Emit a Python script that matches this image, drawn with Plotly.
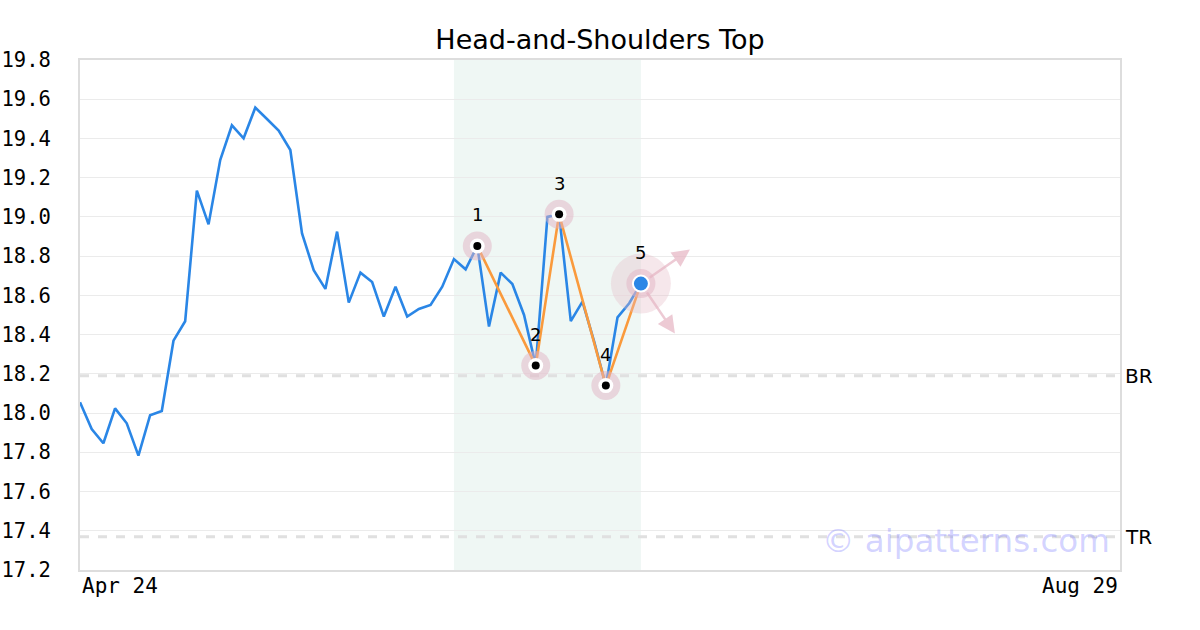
import plotly.graph_objects as go

# ---- data ----
prices = [18.055, 17.919, 17.846, 18.024, 17.948, 17.783, 17.989, 18.011, 18.369, 18.468,
          19.134, 18.962, 19.290, 19.467, 19.401, 19.557, 19.499, 19.440, 19.341, 18.916,
          18.729, 18.633, 18.925, 18.563, 18.716, 18.668, 18.492, 18.644, 18.492, 18.531,
          18.551, 18.644, 18.785, 18.733, 18.852, 18.441, 18.716, 18.658, 18.500, 18.242,
          19.000, 19.013, 18.469, 18.568, 18.364, 18.140, 18.488, 18.560, 18.660]
n_total = 90  # trading days Apr 24 .. Aug 29
tick_labels = ["Apr 24", "Aug 29"]
tick_index = [0, n_total - 1]

pattern_idx = [34, 39, 41, 45, 48]
pattern_val = [18.852, 18.242, 19.013, 18.140, 18.660]
pattern_lbl = ["1", "2", "3", "4", "5"]

zone_start, zone_end = 32, 48
levels = [18.19, 17.37]
level_names = ["BR", "TR"]

BLUE = "#2a86e6"
ORANGE = "#fa9a3c"
PINK = "rgba(225,180,195,0.5)"

fig = go.Figure()

# shaded zone
fig.add_shape(type="rect", xref="x", yref="paper", x0=zone_start, x1=zone_end, y0=0, y1=1,
              fillcolor="#eff7f4", line_width=0, layer="below")

# level lines
for lv in levels:
    fig.add_shape(type="line", xref="paper", yref="y", x0=0, x1=1, y0=lv, y1=lv,
                  line=dict(color="#e0e0e0", width=3, dash="dash"), layer="below")

# price line
fig.add_trace(go.Scatter(x=list(range(len(prices))), y=prices, mode="lines",
                         line=dict(color=BLUE, width=2.6), hoverinfo="skip"))
# pattern line
fig.add_trace(go.Scatter(x=pattern_idx, y=pattern_val, mode="lines",
                         line=dict(color=ORANGE, width=2.6), hoverinfo="skip"))

# big halo on last point
fig.add_trace(go.Scatter(x=pattern_idx[-1:], y=pattern_val[-1:], mode="markers",
                         marker=dict(size=60, color="rgba(230,185,198,0.35)", line_width=0),
                         hoverinfo="skip"))
# halos
fig.add_trace(go.Scatter(x=pattern_idx, y=pattern_val, mode="markers",
                         marker=dict(size=29, color=PINK, line_width=0), hoverinfo="skip"))
# white + black dots for first four
fig.add_trace(go.Scatter(x=pattern_idx[:-1], y=pattern_val[:-1], mode="markers",
                         marker=dict(size=15, color="white", line_width=0), hoverinfo="skip"))
fig.add_trace(go.Scatter(x=pattern_idx[:-1], y=pattern_val[:-1], mode="markers",
                         marker=dict(size=8, color="black", line_width=0), hoverinfo="skip"))
# last point blue dot
fig.add_trace(go.Scatter(x=pattern_idx[-1:], y=pattern_val[-1:], mode="markers",
                         marker=dict(size=16, color=BLUE, line=dict(color="white", width=2)),
                         hoverinfo="skip"))

annotations = []
for xi, yv, lb in zip(pattern_idx, pattern_val, pattern_lbl):
    annotations.append(dict(x=xi, y=yv, text=lb, showarrow=False, yshift=31,
                            font=dict(family="DejaVu Sans", size=18, color="black")))

# arrows from last point
for dx_, dy_ in [(49, -34), (34, 50)]:
    annotations.append(dict(x=pattern_idx[-1], y=pattern_val[-1], xref="x", yref="y",
                            text="", showarrow=True, arrowhead=2, arrowsize=1.4,
                            arrowwidth=2.5, arrowcolor="rgba(230,180,195,0.7)",
                            ax=-dx_, ay=-dy_, standoff=0, startstandoff=9,
                            xshift=dx_, yshift=-dy_))

for lv, nm in zip(levels, level_names):
    annotations.append(dict(x=1, xref="paper", y=lv, yref="y", text=nm, showarrow=False,
                            xanchor="left", xshift=3,
                            font=dict(family="DejaVu Sans", size=20, color="black")))

for ti, tl, anc in zip(tick_index, tick_labels, ["left", "right"]):
    annotations.append(dict(x=ti, xref="x", y=0, yref="paper", text=tl, showarrow=False,
                            xanchor=anc, yanchor="top", yshift=-2,
                            font=dict(family="DejaVu Sans Mono", size=21, color="black")))

annotations.append(dict(x=1, xref="paper", y=17.37, yref="y", text="© aipatterns.com",
                        showarrow=False, xanchor="right", yanchor="middle", xshift=-8, yshift=-4,
                        font=dict(family="DejaVu Sans", size=32.5, color="rgba(130,130,255,0.35)")))

fig.update_layout(
    width=1200, height=630,
    margin=dict(l=80, r=80, t=60, b=60),
    plot_bgcolor="white", paper_bgcolor="white",
    showlegend=False,
    hovermode=False,
    title=dict(text="Head-and-Shoulders Top", x=0.5, xanchor="center", y=1 - 40 / 630,
               yanchor="middle", yref="container",
               font=dict(family="DejaVu Sans", size=27, color="black")),
    annotations=annotations,
    xaxis=dict(range=[0, n_total - 1], showgrid=False, zeroline=False, showticklabels=False,
               showline=True, mirror=True, linecolor="#dddddd", linewidth=2, ticks="",
               automargin=False),
    yaxis=dict(range=[17.2, 19.8], dtick=0.2, tick0=17.2, tickformat=".1f",
               showgrid=True, gridcolor="#ebebeb", gridwidth=1, zeroline=False,
               showline=True, mirror=True, linecolor="#dddddd", linewidth=2, ticks="",
               ticklabelstandoff=23, automargin=False,
               tickfont=dict(family="DejaVu Sans Mono", size=20.5, color="black")),
)

fig.write_html("out.html", config={"displayModeBar": False},
               post_script="document.body.style.margin='0';")
